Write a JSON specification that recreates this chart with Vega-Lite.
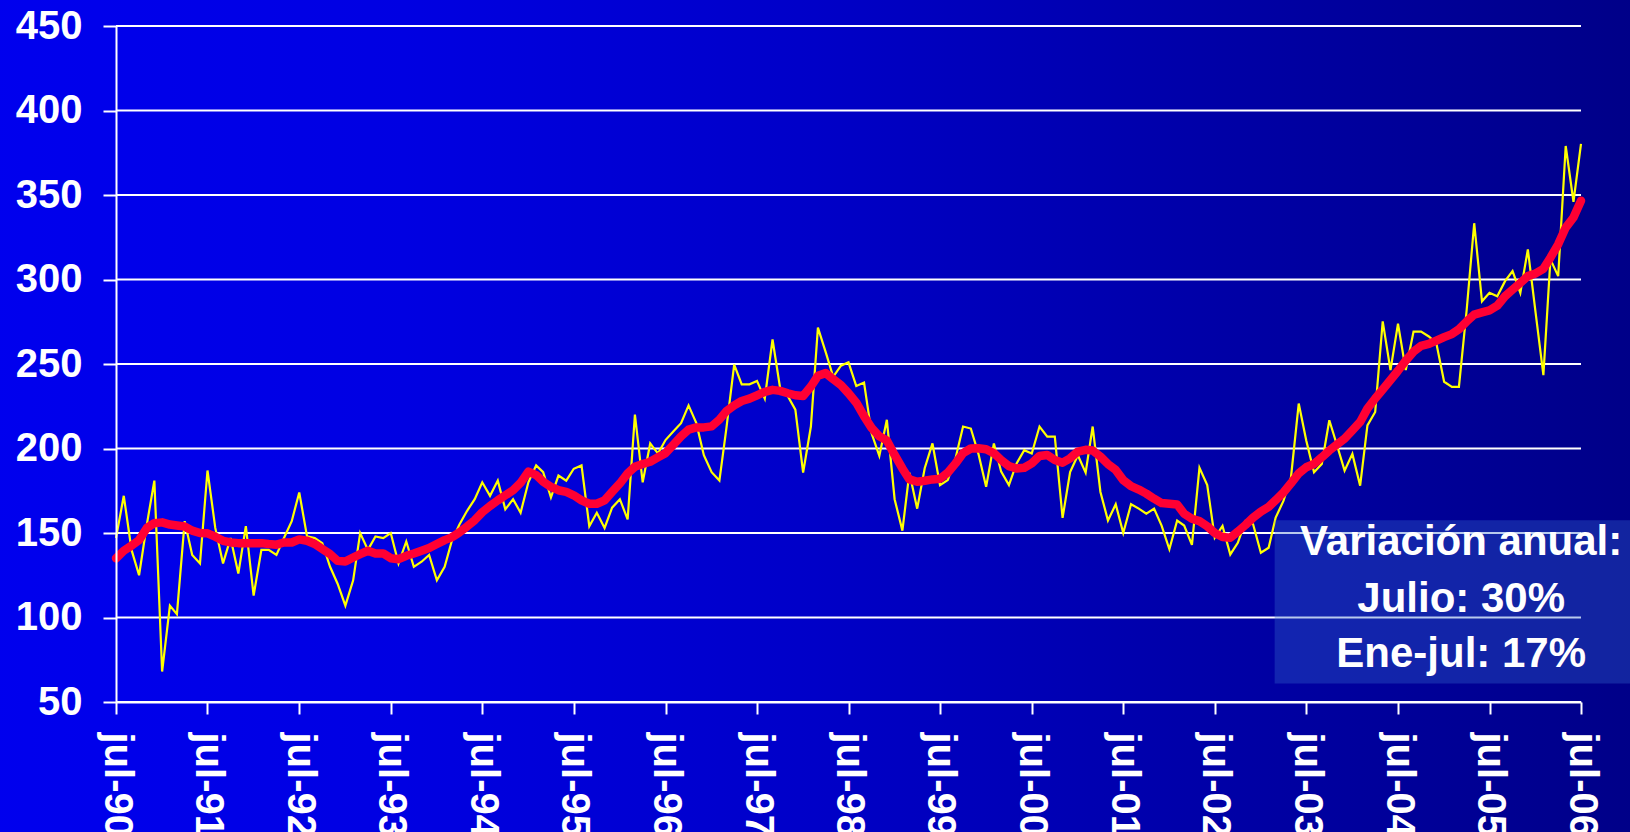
{
"$schema": "https://vega.github.io/schema/vega-lite/v6.json",
"width": 1465,
"height": 676,
"autosize": {"type": "none"},
"padding": {"left": 116, "top": 26, "right": 49, "bottom": 130},
"background": "#0000C0",
"config": {"view": {"stroke": null}, "font": "Liberation Sans"},
"datasets": {
"serie": [
{"fecha":"1990-07-01","indice":147,"media_movil":135},
{"fecha":"1990-08-01","indice":172,"media_movil":139.5},
{"fecha":"1990-09-01","indice":140,"media_movil":142.5},
{"fecha":"1990-10-01","indice":125,"media_movil":145.8},
{"fecha":"1990-11-01","indice":155,"media_movil":153},
{"fecha":"1990-12-01","indice":181,"media_movil":155.8},
{"fecha":"1991-01-01","indice":68,"media_movil":156.3},
{"fecha":"1991-02-01","indice":107,"media_movil":155},
{"fecha":"1991-03-01","indice":102,"media_movil":154.4},
{"fecha":"1991-04-01","indice":157,"media_movil":153.8},
{"fecha":"1991-05-01","indice":137,"media_movil":151.4},
{"fecha":"1991-06-01","indice":132,"media_movil":150},
{"fecha":"1991-07-01","indice":187,"media_movil":149.8},
{"fecha":"1991-08-01","indice":153,"media_movil":147.8},
{"fecha":"1991-09-01","indice":132,"media_movil":145.4},
{"fecha":"1991-10-01","indice":147,"media_movil":144.4},
{"fecha":"1991-11-01","indice":126,"media_movil":144},
{"fecha":"1991-12-01","indice":154,"media_movil":144},
{"fecha":"1992-01-01","indice":113,"media_movil":144},
{"fecha":"1992-02-01","indice":140,"media_movil":144},
{"fecha":"1992-03-01","indice":140,"media_movil":143.5},
{"fecha":"1992-04-01","indice":137,"media_movil":143.1},
{"fecha":"1992-05-01","indice":147,"media_movil":144.4},
{"fecha":"1992-06-01","indice":157,"media_movil":144.4},
{"fecha":"1992-07-01","indice":174,"media_movil":146.2},
{"fecha":"1992-08-01","indice":148,"media_movil":145.4},
{"fecha":"1992-09-01","indice":147,"media_movil":143.5},
{"fecha":"1992-10-01","indice":144,"media_movil":140.5},
{"fecha":"1992-11-01","indice":130,"media_movil":137.5},
{"fecha":"1992-12-01","indice":120,"media_movil":133.5},
{"fecha":"1993-01-01","indice":107,"media_movil":133.1},
{"fecha":"1993-02-01","indice":122,"media_movil":135.5},
{"fecha":"1993-03-01","indice":150,"media_movil":137.5},
{"fecha":"1993-04-01","indice":140,"media_movil":139.5},
{"fecha":"1993-05-01","indice":148,"media_movil":137.9},
{"fecha":"1993-06-01","indice":147,"media_movil":137.9},
{"fecha":"1993-07-01","indice":150,"media_movil":135.1},
{"fecha":"1993-08-01","indice":132,"media_movil":134.5},
{"fecha":"1993-09-01","indice":145,"media_movil":136.5},
{"fecha":"1993-10-01","indice":130,"media_movil":137.9},
{"fecha":"1993-11-01","indice":133,"media_movil":139.5},
{"fecha":"1993-12-01","indice":137,"media_movil":141.1},
{"fecha":"1994-01-01","indice":122,"media_movil":143.5},
{"fecha":"1994-02-01","indice":130,"media_movil":145.8},
{"fecha":"1994-03-01","indice":145,"media_movil":147.4},
{"fecha":"1994-04-01","indice":155,"media_movil":150.4},
{"fecha":"1994-05-01","indice":163,"media_movil":153.8},
{"fecha":"1994-06-01","indice":170,"media_movil":157.6},
{"fecha":"1994-07-01","indice":180,"media_movil":162.3},
{"fecha":"1994-08-01","indice":172,"media_movil":166},
{"fecha":"1994-09-01","indice":181,"media_movil":169.3},
{"fecha":"1994-10-01","indice":164,"media_movil":172.3},
{"fecha":"1994-11-01","indice":170,"media_movil":175.3},
{"fecha":"1994-12-01","indice":162,"media_movil":179.7},
{"fecha":"1995-01-01","indice":180,"media_movil":186.3},
{"fecha":"1995-02-01","indice":190,"media_movil":184.3},
{"fecha":"1995-03-01","indice":186,"media_movil":180.3},
{"fecha":"1995-04-01","indice":171,"media_movil":177.3},
{"fecha":"1995-05-01","indice":184,"media_movil":175.3},
{"fecha":"1995-06-01","indice":181,"media_movil":174.3},
{"fecha":"1995-07-01","indice":188,"media_movil":172.3},
{"fecha":"1995-08-01","indice":190,"media_movil":169.3},
{"fecha":"1995-09-01","indice":154,"media_movil":167.3},
{"fecha":"1995-10-01","indice":162,"media_movil":167.3},
{"fecha":"1995-11-01","indice":153,"media_movil":169.3},
{"fecha":"1995-12-01","indice":165,"media_movil":174.3},
{"fecha":"1996-01-01","indice":170,"media_movil":179.3},
{"fecha":"1996-02-01","indice":158,"media_movil":185.3},
{"fecha":"1996-03-01","indice":220,"media_movil":189.2},
{"fecha":"1996-04-01","indice":180,"media_movil":190.8},
{"fecha":"1996-05-01","indice":203,"media_movil":192.2},
{"fecha":"1996-06-01","indice":197,"media_movil":194.8},
{"fecha":"1996-07-01","indice":205,"media_movil":197.2},
{"fecha":"1996-08-01","indice":210,"media_movil":202.2},
{"fecha":"1996-09-01","indice":215,"media_movil":207.2},
{"fecha":"1996-10-01","indice":225.5,"media_movil":211.2},
{"fecha":"1996-11-01","indice":215,"media_movil":212.5},
{"fecha":"1996-12-01","indice":196,"media_movil":212.5},
{"fecha":"1997-01-01","indice":186,"media_movil":213.1},
{"fecha":"1997-02-01","indice":181,"media_movil":217.1},
{"fecha":"1997-03-01","indice":212,"media_movil":222.1},
{"fecha":"1997-04-01","indice":249.6,"media_movil":225.5},
{"fecha":"1997-05-01","indice":238,"media_movil":228.1},
{"fecha":"1997-06-01","indice":238,"media_movil":229.5},
{"fecha":"1997-07-01","indice":240,"media_movil":231.5},
{"fecha":"1997-08-01","indice":229.5,"media_movil":233.5},
{"fecha":"1997-09-01","indice":264.5,"media_movil":234.7},
{"fecha":"1997-10-01","indice":236,"media_movil":234.1},
{"fecha":"1997-11-01","indice":231,"media_movil":232.7},
{"fecha":"1997-12-01","indice":223,"media_movil":231.5},
{"fecha":"1998-01-01","indice":185.7,"media_movil":231.1},
{"fecha":"1998-02-01","indice":213,"media_movil":236.7},
{"fecha":"1998-03-01","indice":271.5,"media_movil":243},
{"fecha":"1998-04-01","indice":257,"media_movil":244.6},
{"fecha":"1998-05-01","indice":242.4,"media_movil":241},
{"fecha":"1998-06-01","indice":249,"media_movil":237.5},
{"fecha":"1998-07-01","indice":251,"media_movil":232.7},
{"fecha":"1998-08-01","indice":237,"media_movil":227.1},
{"fecha":"1998-09-01","indice":239,"media_movil":219.1},
{"fecha":"1998-10-01","indice":209,"media_movil":212.2},
{"fecha":"1998-11-01","indice":195.6,"media_movil":207.2},
{"fecha":"1998-12-01","indice":217,"media_movil":204.8},
{"fecha":"1999-01-01","indice":170,"media_movil":196.2},
{"fecha":"1999-02-01","indice":151.4,"media_movil":188.2},
{"fecha":"1999-03-01","indice":185.7,"media_movil":181.7},
{"fecha":"1999-04-01","indice":164.4,"media_movil":180.3},
{"fecha":"1999-05-01","indice":188.3,"media_movil":180.9},
{"fecha":"1999-06-01","indice":203,"media_movil":181.7},
{"fecha":"1999-07-01","indice":178.3,"media_movil":182.1},
{"fecha":"1999-08-01","indice":181.3,"media_movil":185.7},
{"fecha":"1999-09-01","indice":194.2,"media_movil":191.2},
{"fecha":"1999-10-01","indice":213,"media_movil":197.2},
{"fecha":"1999-11-01","indice":211.8,"media_movil":200},
{"fecha":"1999-12-01","indice":197,"media_movil":200.2},
{"fecha":"2000-01-01","indice":177.3,"media_movil":199.6},
{"fecha":"2000-02-01","indice":203,"media_movil":197.2},
{"fecha":"2000-03-01","indice":186.3,"media_movil":193.2},
{"fecha":"2000-04-01","indice":178.3,"media_movil":189.6},
{"fecha":"2000-05-01","indice":191,"media_movil":188.2},
{"fecha":"2000-06-01","indice":199,"media_movil":188.6},
{"fecha":"2000-07-01","indice":197,"media_movil":191.2},
{"fecha":"2000-08-01","indice":213,"media_movil":195.6},
{"fecha":"2000-09-01","indice":207,"media_movil":196.2},
{"fecha":"2000-10-01","indice":207,"media_movil":193.2},
{"fecha":"2000-11-01","indice":159,"media_movil":191.6},
{"fecha":"2000-12-01","indice":186,"media_movil":194.2},
{"fecha":"2001-01-01","indice":196,"media_movil":198.2},
{"fecha":"2001-02-01","indice":185.7,"media_movil":199.2},
{"fecha":"2001-03-01","indice":213,"media_movil":198.8},
{"fecha":"2001-04-01","indice":174.3,"media_movil":195.2},
{"fecha":"2001-05-01","indice":157.4,"media_movil":190.8},
{"fecha":"2001-06-01","indice":167,"media_movil":187.3},
{"fecha":"2001-07-01","indice":150,"media_movil":181.3},
{"fecha":"2001-08-01","indice":167,"media_movil":177.7},
{"fecha":"2001-09-01","indice":164.4,"media_movil":175.7},
{"fecha":"2001-10-01","indice":161.4,"media_movil":173.3},
{"fecha":"2001-11-01","indice":164.4,"media_movil":170.3},
{"fecha":"2001-12-01","indice":154.4,"media_movil":167.7},
{"fecha":"2002-01-01","indice":140.4,"media_movil":167.3},
{"fecha":"2002-02-01","indice":157.4,"media_movil":166.9},
{"fecha":"2002-03-01","indice":154.4,"media_movil":161.4},
{"fecha":"2002-04-01","indice":143,"media_movil":158.4},
{"fecha":"2002-05-01","indice":188.6,"media_movil":157},
{"fecha":"2002-06-01","indice":178.3,"media_movil":154},
{"fecha":"2002-07-01","indice":147.2,"media_movil":150},
{"fecha":"2002-08-01","indice":154.2,"media_movil":147.6},
{"fecha":"2002-09-01","indice":137.3,"media_movil":147.2},
{"fecha":"2002-10-01","indice":144.2,"media_movil":150.8},
{"fecha":"2002-11-01","indice":157.1,"media_movil":154.8},
{"fecha":"2002-12-01","indice":155.2,"media_movil":159.1},
{"fecha":"2003-01-01","indice":138.3,"media_movil":162.7},
{"fecha":"2003-02-01","indice":141.3,"media_movil":165.5},
{"fecha":"2003-03-01","indice":159.1,"media_movil":169.4},
{"fecha":"2003-04-01","indice":169,"media_movil":174},
{"fecha":"2003-05-01","indice":182.9,"media_movil":179.4},
{"fecha":"2003-06-01","indice":226.6,"media_movil":185.3},
{"fecha":"2003-07-01","indice":204.8,"media_movil":188.9},
{"fecha":"2003-08-01","indice":185.9,"media_movil":190.9},
{"fecha":"2003-09-01","indice":190.9,"media_movil":194.8},
{"fecha":"2003-10-01","indice":216.7,"media_movil":198.8},
{"fecha":"2003-11-01","indice":201.8,"media_movil":202.4},
{"fecha":"2003-12-01","indice":186.9,"media_movil":205.8},
{"fecha":"2004-01-01","indice":196.8,"media_movil":210.7},
{"fecha":"2004-02-01","indice":178,"media_movil":215.7},
{"fecha":"2004-03-01","indice":213.7,"media_movil":223.6},
{"fecha":"2004-04-01","indice":221.6,"media_movil":229.6},
{"fecha":"2004-05-01","indice":275.2,"media_movil":234.9},
{"fecha":"2004-06-01","indice":246.4,"media_movil":240.5},
{"fecha":"2004-07-01","indice":273.8,"media_movil":246},
{"fecha":"2004-08-01","indice":246.4,"media_movil":252},
{"fecha":"2004-09-01","indice":269.2,"media_movil":257.3},
{"fecha":"2004-10-01","indice":269.2,"media_movil":260.7},
{"fecha":"2004-11-01","indice":266.3,"media_movil":261.9},
{"fecha":"2004-12-01","indice":262.3,"media_movil":263.9},
{"fecha":"2005-01-01","indice":239.5,"media_movil":265.9},
{"fecha":"2005-02-01","indice":236.5,"media_movil":267.7},
{"fecha":"2005-03-01","indice":236.5,"media_movil":270.6},
{"fecha":"2005-04-01","indice":282.1,"media_movil":275.2},
{"fecha":"2005-05-01","indice":333.3,"media_movil":279.2},
{"fecha":"2005-06-01","indice":287.1,"media_movil":280.5},
{"fecha":"2005-07-01","indice":292.1,"media_movil":281.7},
{"fecha":"2005-08-01","indice":290.1,"media_movil":284.5},
{"fecha":"2005-09-01","indice":299,"media_movil":290.1},
{"fecha":"2005-10-01","indice":305,"media_movil":294},
{"fecha":"2005-11-01","indice":292.1,"media_movil":298},
{"fecha":"2005-12-01","indice":317.8,"media_movil":302},
{"fecha":"2006-01-01","indice":280.2,"media_movil":303.6},
{"fecha":"2006-02-01","indice":243.4,"media_movil":306.3},
{"fecha":"2006-03-01","indice":311.9,"media_movil":312.9},
{"fecha":"2006-04-01","indice":302,"media_movil":320.8},
{"fecha":"2006-05-01","indice":379,"media_movil":330.7},
{"fecha":"2006-06-01","indice":346,"media_movil":336.7},
{"fecha":"2006-07-01","indice":380.3,"media_movil":346.6}
],
"fondo": [{"fecha":"1989-03-01","fecha_fin":"2007-02-01","abajo":-30,"arriba":470}],
"rejilla": [{"nivel":50},{"nivel":100},{"nivel":150},{"nivel":200},{"nivel":250},{"nivel":300},{"nivel":350},{"nivel":400},{"nivel":450}],
"caja": [{"fecha":"2003-02-25","fecha_fin":"2007-01-20","abajo":61,"arriba":157.6}],
"nota": [
{"fecha":"2005-03-10","pos":136.8,"texto":"Variación anual:"},
{"fecha":"2005-03-10","pos":103.1,"texto":"Julio: 30%"},
{"fecha":"2005-03-10","pos":70.5,"texto":"Ene-jul: 17%"}
]
},
"layer": [
{"data": {"name": "fondo"},
"mark": {"type": "rect", "clip": false, "fill": {"gradient": "linear", "x1": 0, "y1": 0, "x2": 1, "y2": 0, "stops": [{"offset": 0, "color": "#0000EE"}, {"offset": 0.25, "color": "#0000E2"}, {"offset": 0.5, "color": "#0000C8"}, {"offset": 0.75, "color": "#0000A6"}, {"offset": 1, "color": "#000088"}]}},
"encoding": {
"x": {"field": "fecha", "type": "temporal",
"scale": {"type": "utc", "nice": false, "domain": [{"year":1990,"month":7,"date":1,"utc":true},{"year":2006,"month":7,"date":1,"utc":true}]},
"axis": {"title": null, "grid": false, "zindex": 1,
"values": [{"year":1990,"month":7,"date":1,"utc":true},{"year":1991,"month":7,"date":1,"utc":true},{"year":1992,"month":7,"date":1,"utc":true},{"year":1993,"month":7,"date":1,"utc":true},{"year":1994,"month":7,"date":1,"utc":true},{"year":1995,"month":7,"date":1,"utc":true},{"year":1996,"month":7,"date":1,"utc":true},{"year":1997,"month":7,"date":1,"utc":true},{"year":1998,"month":7,"date":1,"utc":true},{"year":1999,"month":7,"date":1,"utc":true},{"year":2000,"month":7,"date":1,"utc":true},{"year":2001,"month":7,"date":1,"utc":true},{"year":2002,"month":7,"date":1,"utc":true},{"year":2003,"month":7,"date":1,"utc":true},{"year":2004,"month":7,"date":1,"utc":true},{"year":2005,"month":7,"date":1,"utc":true},{"year":2006,"month":7,"date":1,"utc":true}],
"labelExpr": "'jul-' + utcFormat(datum.value, '%y')",
"labelAngle": 90, "labelAlign": "left", "labelBaseline": "middle",
"labelFont": "Liberation Sans", "labelFontSize": 40, "labelFontWeight": "bold", "labelColor": "white",
"labelPadding": 18, "labelOverlap": false, "labelFlush": false, "labelBound": false,
"tickSize": 12, "tickColor": "white", "tickWidth": 2,
"domainColor": "white", "domainWidth": 2}},
"x2": {"field": "fecha_fin"},
"y": {"field": "abajo", "type": "quantitative",
"scale": {"domain": [50, 450], "nice": false, "zero": false},
"axis": {"title": null, "grid": false, "zindex": 1, "values": [50,100,150,200,250,300,350,400,450],
"labelFont": "Liberation Sans", "labelFontSize": 40, "labelFontWeight": "bold", "labelColor": "white",
"labelPadding": 21, "tickSize": 13, "tickColor": "white", "tickWidth": 2,
"domainColor": "white", "domainWidth": 2}},
"y2": {"field": "arriba"}}},
{"data": {"name": "rejilla"},
"mark": {"type": "rule", "color": "white", "strokeWidth": 2},
"encoding": {"y": {"field": "nivel", "type": "quantitative"}}},
{"data": {"name": "serie"},
"mark": {"type": "line", "color": "#FFFF00", "strokeWidth": 2.2},
"encoding": {"x": {"field": "fecha", "type": "temporal"}, "y": {"field": "indice", "type": "quantitative"}}},
{"data": {"name": "serie"},
"mark": {"type": "line", "color": "#FF0033", "strokeWidth": 8.5, "strokeCap": "round", "strokeJoin": "round"},
"encoding": {"x": {"field": "fecha", "type": "temporal"}, "y": {"field": "media_movil", "type": "quantitative"}}},
{"data": {"name": "caja"},
"mark": {"type": "rect", "fill": "#3366CC", "opacity": 0.35, "clip": false},
"encoding": {"x": {"field": "fecha", "type": "temporal"}, "x2": {"field": "fecha_fin"},
"y": {"field": "abajo", "type": "quantitative"}, "y2": {"field": "arriba"}}},
{"data": {"name": "nota"},
"mark": {"type": "text", "color": "white", "font": "Liberation Sans", "fontSize": 42, "fontWeight": "bold", "align": "center", "baseline": "alphabetic", "clip": false},
"encoding": {"x": {"field": "fecha", "type": "temporal"}, "y": {"field": "pos", "type": "quantitative"},
"text": {"field": "texto"}}}
]
}
